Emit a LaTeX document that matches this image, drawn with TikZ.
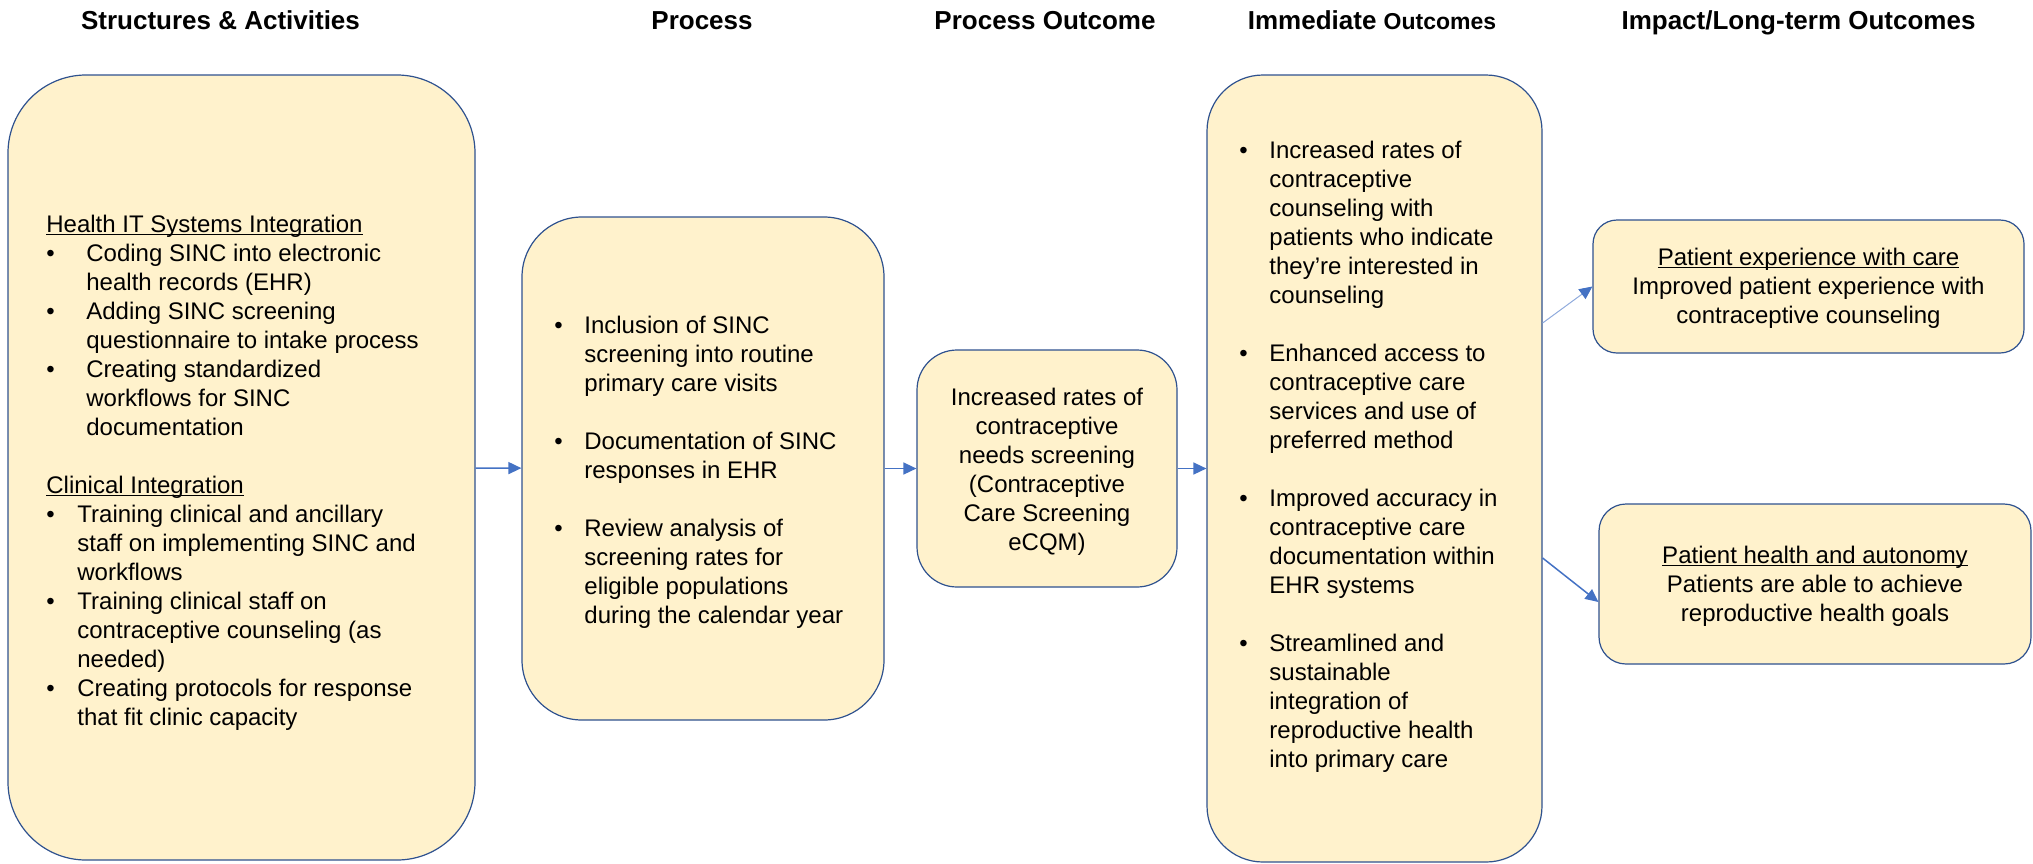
\documentclass[tikz,border=0pt]{standalone}
\usepackage{fontspec}
\setmainfont{Liberation Sans}
\usetikzlibrary{arrows.meta}

\definecolor{boxfill}{HTML}{FFF2CC}
\definecolor{boxline}{HTML}{2F528F}
\definecolor{arrowblue}{HTML}{4472C4}
\definecolor{arrowlight}{HTML}{8FAADC}

\newsavebox{\lmulbox}
\newcommand{\lmul}[1]{\sbox{\lmulbox}{#1}\rlap{\rule[-1.3pt]{\wd\lmulbox}{0.6pt}}\usebox{\lmulbox}}
\newcommand{\bul}[1][20pt]{\makebox[#1][l]{\textbullet}}
\newcommand{\ind}[1][20pt]{\hspace*{#1}}

\begin{document}
\begin{tikzpicture}[x=0.5pt, y=-0.5pt]
\tikzset{lmbox/.style={draw=boxline, fill=boxfill, line width=0.6pt, inner sep=0pt},
  lmtext/.style={inner sep=0pt, align=left, font=\fontsize{12}{14.5}\selectfont},
  lmhead/.style={anchor=base, inner sep=0pt, font=\bfseries\fontsize{13}{15}\selectfont},
  lmarrow/.style={draw=arrowblue, line width=0.75pt, -{Triangle[length=6.5pt, width=6pt, color=arrowblue]}}}
\useasboundingbox (0,0) rectangle (2033,863);

% column titles
\node[lmhead] (h1) at (220.5,29) {Structures \& Activities};
\node[lmhead] (h2) at (702,29) {Process};
\node[lmhead] (h3) at (1045,29) {Process Outcome};
\node[lmhead] (h4) at (1372,29) {Immediate {\fontsize{11.5}{14}\selectfont Outcomes}};
\node[lmhead] (h5) at (1798.5,29) {Impact/Long-term Outcomes};

% boxes
\node[lmbox, rounded corners=39pt, minimum width=233.5pt, minimum height=392.5pt] (sa) at (241.5,467.5) {};
\node[lmbox, rounded corners=30pt, minimum width=181pt, minimum height=251.5pt] (pr) at (703,468.5) {};
\node[lmbox, rounded corners=20pt, minimum width=130pt, minimum height=118.5pt] (po) at (1047,468.5) {};
\node[lmbox, rounded corners=28pt, minimum width=167.5pt, minimum height=393.5pt] (io) at (1374.5,468.5) {};
\node[lmbox, rounded corners=12pt, minimum width=215.5pt, minimum height=66.5pt] (pe) at (1808.5,286.5) {};
\node[lmbox, rounded corners=13.5pt, minimum width=216pt, minimum height=80pt] (ph) at (1815,584) {};

% texts
\node[lmtext, anchor=north west] (sa-t) at (46,215) {\lmul{Health IT Systems Integration}\\
\bul Coding SINC into electronic\\
\ind health records (EHR)\\
\bul Adding SINC screening\\
\ind questionnaire to intake process\\
\bul Creating standardized\\
\ind workflows for SINC\\
\ind documentation\\[14.5pt]
\lmul{Clinical Integration}\\
\bul[15.5pt]Training clinical and ancillary\\
\ind[15.5pt]staff on implementing SINC and\\
\ind[15.5pt]workflows\\
\bul[15.5pt]Training clinical staff on\\
\ind[15.5pt]contraceptive counseling (as\\
\ind[15.5pt]needed)\\
\bul[15.5pt]Creating protocols for response\\
\ind[15.5pt]that fit clinic capacity};

\node[lmtext, anchor=north west] (pr-t) at (554,316) {\bul[15pt]Inclusion of SINC\\
\ind[15pt]screening into routine\\
\ind[15pt]primary care visits\\[14.5pt]
\bul[15pt]Documentation of SINC\\
\ind[15pt]responses in EHR\\[14.5pt]
\bul[15pt]Review analysis of\\
\ind[15pt]screening rates for\\
\ind[15pt]eligible populations\\
\ind[15pt]during the calendar year};

\node[lmtext, align=center, anchor=north] (po-t) at (1047,388) {Increased rates of\\contraceptive\\needs screening\\(Contraceptive\\Care Screening\\eCQM)};

\node[lmtext, anchor=north west] (io-t) at (1239,141) {\bul[15pt]Increased rates of\\
\ind[15pt]contraceptive\\
\ind[15pt]counseling with\\
\ind[15pt]patients who indicate\\
\ind[15pt]they’re interested in\\
\ind[15pt]counseling\\[14.5pt]
\bul[15pt]Enhanced access to\\
\ind[15pt]contraceptive care\\
\ind[15pt]services and use of\\
\ind[15pt]preferred method\\[14.5pt]
\bul[15pt]Improved accuracy in\\
\ind[15pt]contraceptive care\\
\ind[15pt]documentation within\\
\ind[15pt]EHR systems\\[14.5pt]
\bul[15pt]Streamlined and\\
\ind[15pt]sustainable\\
\ind[15pt]integration of\\
\ind[15pt]reproductive health\\
\ind[15pt]into primary care};

\node[lmtext, align=center, anchor=north] (pe-t) at (1808.5,248) {\lmul{Patient experience with care}\\Improved patient experience with\\contraceptive counseling};
\node[lmtext, align=center, anchor=north] (ph-t) at (1815,546) {\lmul{Patient health and autonomy}\\Patients are able to achieve\\reproductive health goals};

% arrows
\draw[lmarrow] (sa) -- (pr);
\draw[lmarrow] (pr) -- (po);
\draw[lmarrow] (po) -- (io);
\draw[lmarrow, draw=arrowlight, line width=0.5pt] ([yshift=72.75pt]io.east) -- (pe.west);
\draw[lmarrow] ([yshift=-44.75pt]io.east) -- ([yshift=-9pt]ph.west);
\end{tikzpicture}
\end{document}
